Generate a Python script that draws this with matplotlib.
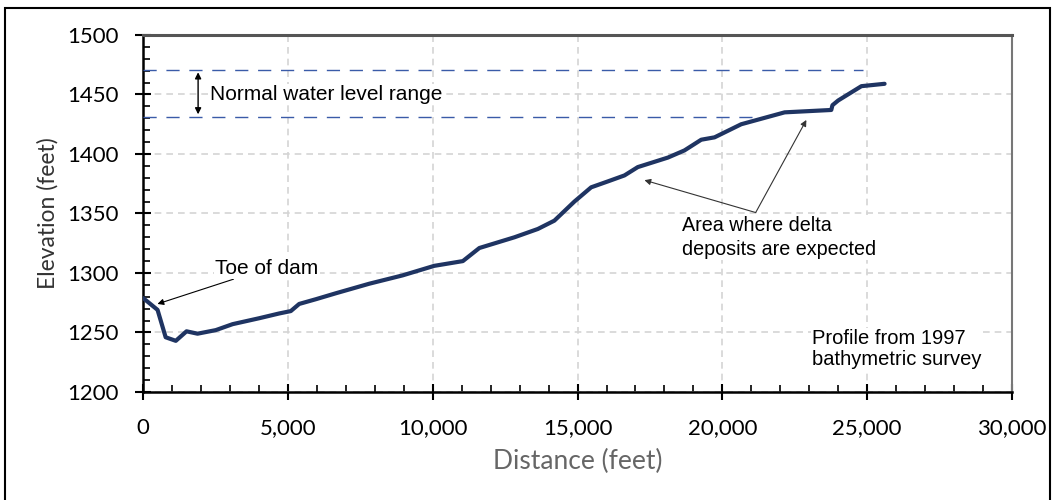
import numpy as np
import matplotlib.pyplot as plt
from matplotlib.ticker import MultipleLocator, FuncFormatter
from matplotlib.patches import Rectangle

# profile
distance = [0, 500, 780, 1130, 1500, 1880, 2510, 3090, 4010, 4700, 5100,
            5390, 5970, 6660, 7810, 8960, 10050, 11040, 11610, 12820, 13630,
            14200, 14890, 15470, 16050, 16620, 17080, 18120, 18690, 19270,
            19730, 20650, 22150, 23760, 23800, 24000, 24800, 25600]
elevation = [1279, 1269, 1246, 1243, 1251, 1249, 1252, 1257, 1262, 1266,
             1268, 1274, 1278, 1283, 1291, 1298, 1306, 1310, 1321, 1330,
             1337, 1344, 1360, 1372, 1377, 1382, 1389, 1397, 1403, 1412,
             1414, 1425, 1435, 1437, 1441, 1445, 1457, 1459]

wl_high = 1471
wl_low = 1431
wl_high_end = 24850
wl_low_end = 21250

ann_font = ['Liberation Sans', 'DejaVu Sans']
lab_font = ['Lato', 'DejaVu Sans']

fig = plt.figure(figsize=(10.52, 5.0), dpi=100)
ax = fig.add_axes([0.136, 0.216, 0.826, 0.714])

ax.plot(distance, elevation, color='#1F3462', linewidth=3, solid_capstyle='round', zorder=4)

ax.plot([0, wl_high_end], [wl_high, wl_high], color='#3A5BA8', lw=1, dashes=(9.5, 7), zorder=3)
ax.plot([0, wl_low_end], [wl_low, wl_low], color='#3A5BA8', lw=1, dashes=(9.5, 7), zorder=3)
ax.annotate('', xy=(1900, wl_high), xytext=(1900, wl_low),
            arrowprops=dict(arrowstyle='<|-|>', color='black', lw=1, mutation_scale=9))

bbox = dict(facecolor='white', edgecolor='none', pad=1)
ax.text(2300, 1450, 'Normal water level range', fontsize=15, family=ann_font,
        va='center', ha='left', bbox=bbox, zorder=3)

ax.annotate('Toe of dam', xy=(497, 1274), xytext=(2500, 1304), fontsize=15,
            family=ann_font, va='center', ha='left', bbox=bbox, zorder=3,
            arrowprops=dict(arrowstyle='-|>', color='black', lw=0.8, mutation_scale=9,
                            shrinkA=0, shrinkB=0))

ax.text(18600, 1330, 'Area where delta\ndeposits are expected', fontsize=14.2,
        family=ann_font, va='center', ha='left', linespacing=1.3, bbox=bbox, zorder=3)
for hx, hy in [(17310, 1378), (22900, 1428.6)]:
    ax.annotate('', xy=(hx, hy), xytext=(21150, 1350.8),
                arrowprops=dict(arrowstyle='-|>', color='#333333', lw=0.8, mutation_scale=9,
                                shrinkA=0, shrinkB=0))

ax.text(23100, 1236, 'Profile from 1997\nbathymetric survey', fontsize=14.5,
        family=ann_font, va='center', ha='left', linespacing=1.1, bbox=bbox, zorder=3)

ax.set_xlim(0, 30000)
ax.set_ylim(1200, 1500)
ax.xaxis.set_major_locator(MultipleLocator(5000))
ax.xaxis.set_minor_locator(MultipleLocator(1000))
ax.yaxis.set_major_locator(MultipleLocator(50))
ax.yaxis.set_minor_locator(MultipleLocator(10))
ax.xaxis.set_major_formatter(FuncFormatter(lambda v, p: f'{int(v):,}'))

ax.grid(True, which='major', color='#D4D4D4', linestyle=(0, (4, 3)), linewidth=1.2, zorder=0)
ax.set_axisbelow(True)

ax.tick_params(which='major', direction='inout', length=11, width=1.5, labelsize=16)
ax.tick_params(axis='y', which='major', pad=12)
ax.tick_params(axis='x', which='major', pad=13)
ax.tick_params(which='minor', direction='in', length=5, width=1.2)
for lab in ax.get_xticklabels() + ax.get_yticklabels():
    lab.set_family(lab_font)

for s in ['left', 'bottom']:
    ax.spines[s].set_linewidth(1.8)
    ax.spines[s].set_color('black')
ax.spines['top'].set_linewidth(2.2)
ax.spines['top'].set_color('#555555')
ax.spines['right'].set_linewidth(1.5)
ax.spines['right'].set_color('#777777')

ax.set_xlabel('Distance (feet)', fontsize=19, color='#666666', family=lab_font, labelpad=8)
ax.set_ylabel('Elevation (feet)', fontsize=16.5, color='#333333', family=lab_font, labelpad=6)

fig.patches.append(Rectangle((0.005, -0.01), 0.993, 0.994, transform=fig.transFigure,
                             fill=False, edgecolor='black', linewidth=1.5))

plt.savefig('out.png', dpi=100)
